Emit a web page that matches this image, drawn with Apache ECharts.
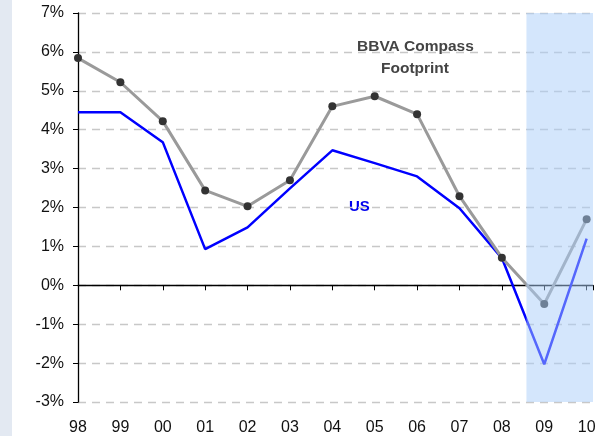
<!DOCTYPE html>
<html><head><meta charset="utf-8">
<script src="https://cdn.jsdelivr.net/npm/echarts@6/dist/echarts.min.js"></script>
<style>html,body{margin:0;padding:0;background:#fff}#c{width:612px;height:436px}</style>
</head><body><div id="c"></div>
<script>
var categories = ['98','99','00','01','02','03','04','05','06','07','08','09','10'];
var footprint = [5.84, 5.22, 4.22, 2.44, 2.03, 2.70, 4.60, 4.86, 4.40, 2.29, 0.71, -0.48, 1.70];
var us = [4.45, 4.45, 3.68, 0.93, 1.49, 2.49, 3.47, 3.14, 2.80, 1.98, 0.70, -2.03, 1.20];
var forecastStart = 10.58, forecastEnd = 12.15;

function pairs(arr){ return arr.map(function(v,i){ return [i, v]; }); }

var chart = echarts.init(document.getElementById('c'), null, {renderer:'canvas'});
var font = 'Liberation Sans, Arial, sans-serif';
chart.setOption({
  animation:false,
  backgroundColor:'#fff',
  graphic:[
    {type:'rect', left:0, top:0, shape:{width:12, height:436}, style:{fill:'#e3e9f2'}, z:-10},
    {type:'text', left:357, top:39, style:{text:'BBVA Compass', font:'bold 15.5px '+font, fill:'#444'}},
    {type:'text', left:381, top:61, style:{text:'Footprint', font:'bold 15.5px '+font, fill:'#444'}},
    {type:'text', left:349, top:199, style:{text:'US', font:'bold 15px '+font, fill:'#0000ee'}}
  ],
  grid:{left:78, right:19, top:13, bottom:34},
  xAxis:[
    {type:'value', min:0, max:forecastEnd, interval:1,
     axisLine:{onZero:true, lineStyle:{color:'#000', width:1.3}},
     axisTick:{show:true, length:5, inside:false, lineStyle:{color:'#000'}},
     axisLabel:{show:false}, splitLine:{show:false}},
    {type:'value', min:0, max:forecastEnd, interval:1, position:'bottom',
     axisLine:{show:false, onZero:false}, axisTick:{show:false}, splitLine:{show:false},
     axisLabel:{show:true, margin:18, showMaxLabel:false, color:'#111', fontFamily:font, fontSize:16,
       formatter:function(v){ return categories[Math.round(v)] || ''; }}}
  ],
  yAxis:{type:'value', min:-3, max:7, interval:1,
    axisLine:{show:true, lineStyle:{color:'#000', width:1.3}},
    axisTick:{show:true, length:5, lineStyle:{color:'#000'}},
    axisLabel:{formatter:'{value}%', color:'#111', fontFamily:font, fontSize:16, margin:14},
    splitLine:{show:true, lineStyle:{color:'#c8c8c8', type:[8,6], width:1.3}}},
  series:[
    {name:'US', type:'line', data:pairs(us), showSymbol:false, symbol:'none',
     lineStyle:{color:'#0000ff', width:2.5}, z:3},
    {name:'BBVA Compass Footprint', type:'line', data:pairs(footprint), symbol:'circle', symbolSize:8,
     lineStyle:{color:'#9a9a9a', width:3}, itemStyle:{color:'#333'}, z:4},
    {name:'shade', type:'line', data:[], z:20, zlevel:1,
     markArea:{silent:true, z:20, itemStyle:{color:'rgba(170,205,250,0.5)'},
       data:[[{xAxis:forecastStart, yAxis:7},{xAxis:forecastEnd, yAxis:-3}]]}}
  ]
});
</script></body></html>
